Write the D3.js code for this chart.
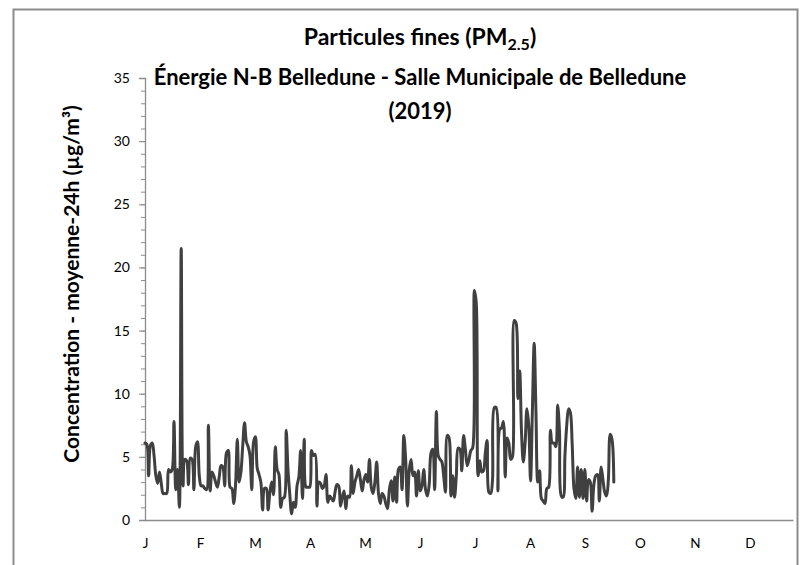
<!DOCTYPE html>
<html>
<head>
<meta charset="utf-8">
<script src="https://cdn.jsdelivr.net/npm/d3@7"></script>
<style>
  html, body { margin: 0; padding: 0; background: #fff; }
  svg { display: block; }
  text { font-family: Lato, "Open Sans", sans-serif; }
</style>
</head>
<body>
<svg id="chart" width="812" height="565"></svg>
<script>
// ---- data ----
const titleLine1 = "Particules fines (PM";
const titleSub = "2.5";
const titleLine2 = "Énergie N-B Belledune - Salle Municipale de Belledune";
const titleLine3 = "(2019)";
const yAxisTitle = "Concentration - moyenne-24h (µg/m³)";
const monthLabels = ["J","F","M","A","M","J","J","A","S","O","N","D"];
const yTickValues = [0, 5, 10, 15, 20, 25, 30, 35];
const startDate = "2019-01-01";
// daily 24h means, µg/m³, from 1 Jan 2019
const dailyValues = [
  6.1, 6.0, 3.5, 5.9, 6.1, 5.1, 3.5, 2.9, 3.8, 2.9,
  2.1, 2.1, 2.1, 4.0, 3.8, 4.0, 7.8, 2.4, 4.0, 1.0,
  21.5, 2.7, 4.8, 4.7, 2.8, 4.9, 4.8, 2.4, 5.8, 6.2,
  3.5, 2.7, 2.7, 2.5, 2.4, 7.5, 2.3, 3.8, 3.5, 3.0,
  2.6, 3.4, 4.3, 4.2, 2.7, 5.3, 5.5, 2.6, 2.5, 1.3,
  2.7, 6.4, 3.0, 3.8, 5.9, 7.7, 6.2, 5.8, 5.1, 2.4,
  6.2, 6.6, 4.1, 3.6, 3.0, 0.8, 2.5, 2.5, 0.8, 2.2,
  3.0, 2.0, 5.8, 4.0, 3.6, 1.0, 1.7, 1.8, 7.1, 4.0,
  2.0, 0.5, 1.4, 1.0, 2.7, 3.4, 5.5, 1.7, 6.4, 2.6,
  2.6, 2.6, 5.5, 5.1, 5.2, 1.1, 3.0, 2.9, 2.5, 2.7,
  3.6, 1.4, 1.9, 1.7, 1.5, 2.2, 2.8, 2.7, 1.1, 1.8,
  2.3, 0.9, 1.9, 1.8, 4.3, 2.1, 3.0, 3.5, 4.0, 3.2,
  2.3, 3.2, 3.6, 3.0, 4.8, 2.6, 2.1, 3.0, 4.6, 2.1,
  1.3, 2.1, 1.9, 1.3, 0.9, 2.4, 3.1, 1.5, 3.4, 1.4,
  4.0, 4.2, 2.4, 6.7, 4.8, 1.1, 4.0, 4.8, 3.5, 3.8,
  1.9, 3.9, 2.3, 2.7, 4.0, 2.4, 1.9, 2.8, 5.3, 5.6,
  2.4, 8.6, 5.1, 4.8, 4.6, 3.5, 2.2, 6.7, 6.5, 1.9,
  3.5, 1.8, 3.5, 5.7, 5.6, 3.9, 6.7, 5.6, 4.3, 4.8,
  5.5, 5.7, 18.2, 17.2, 3.5, 4.7, 3.8, 3.9, 5.3, 6.3,
  2.2, 2.1, 3.2, 8.9, 8.9, 2.3, 7.2, 7.3, 7.8, 3.4,
  6.5, 6.1, 4.8, 5.0, 15.8, 15.6, 9.6, 11.8, 7.0, 4.6,
  6.1, 8.8, 7.5, 3.1, 8.5, 14.0, 8.5, 3.0, 3.9, 1.7,
  1.5, 1.3, 2.5, 2.6, 7.1, 6.1, 6.1, 5.8, 9.1, 7.0,
  1.9, 1.8, 5.1, 7.5, 8.8, 8.5, 6.0, 2.5, 1.7, 4.2,
  1.8, 4.0, 1.7, 4.0, 1.5, 3.2, 3.0, 0.7, 2.8, 3.5,
  3.6, 1.5, 4.2, 3.2, 2.2, 1.9, 3.2, 6.8, 6.4, 3.0
];
const axisEndDays = 358;

// ---- build ----
const svg = d3.select("#chart");
const x0 = 145, x1 = 793, yTop = 78, yBottom = 520, xLastLabel = 750;

const parse = d3.timeParse("%Y-%m-%d");
const d0 = parse(startDate);
const series = dailyValues.map((v, i) => ({ date: d3.timeDay.offset(d0, i), value: v }));

const x = d3.scaleTime().domain([d0, d3.timeDay.offset(d0, axisEndDays)]).range([x0, x1]);
const y = d3.scaleLinear().domain([0, 35]).range([yBottom, yTop]);
const xMonth = d3.scalePoint().domain(d3.range(monthLabels.length)).range([x0, xLastLabel]);

// chart frame
svg.append("rect")
  .attr("x", 13.5).attr("y", 9.5).attr("width", 784).attr("height", 570)
  .attr("fill", "none").attr("stroke", "#8c8c8c").attr("stroke-width", 2);

// y axis minor ticks
const yMinor = d3.axisLeft(y).tickValues(d3.range(0, 36, 1)).tickSize(4).tickFormat("");
const gMinor = svg.append("g").attr("transform", `translate(${x0},0)`).call(yMinor);
gMinor.select(".domain").remove();
gMinor.selectAll("line").attr("stroke", "#8c8c8c");

// y axis major
const yAxis = d3.axisLeft(y).tickValues(yTickValues).tickSize(6).tickPadding(9).tickFormat(d3.format("d"));
const gy = svg.append("g").attr("transform", `translate(${x0},0)`).call(yAxis);
gy.select(".domain").attr("stroke", "#8c8c8c").attr("stroke-width", 1.3);
gy.selectAll("line").attr("stroke", "#8c8c8c");
gy.selectAll("text").attr("font-family", "Lato, sans-serif").attr("font-size", 14).attr("fill", "#000");

// x axis (line) + month labels
const gx = svg.append("g").attr("transform", `translate(0,${yBottom})`)
  .call(d3.axisBottom(x).tickValues([]).tickSizeOuter(0));
gx.select(".domain").attr("stroke", "#8c8c8c").attr("stroke-width", 1.3);
const gm = svg.append("g").attr("transform", `translate(0,${yBottom})`)
  .call(d3.axisBottom(xMonth).tickSize(0).tickPadding(18).tickFormat(i => monthLabels[i]));
gm.select(".domain").remove();
gm.selectAll("text").attr("font-family", "Lato, sans-serif").attr("font-size", 13.5).attr("fill", "#000");

// line (smoothed, like the original)
const line = d3.line().x(d => x(d.date)).y(d => y(d.value)).curve(d3.curveCatmullRom.alpha(0.5));
svg.append("path").datum(series)
  .attr("d", line)
  .attr("fill", "none")
  .attr("stroke", "#404040")
  .attr("stroke-width", 3)
  .attr("stroke-linejoin", "round")
  .attr("stroke-linecap", "round");

// titles
const tFont = 22;
const t1 = svg.append("text").attr("x", 420).attr("y", 45)
  .attr("text-anchor", "middle").attr("font-weight", "bold").attr("font-size", 23).attr("fill", "#000");
t1.append("tspan").text(titleLine1);
t1.append("tspan").attr("dy", 5).attr("font-size", 16).text(titleSub);
t1.append("tspan").attr("dy", -5).text(")");

svg.append("text").attr("x", 420).attr("y", 85)
  .attr("text-anchor", "middle").attr("font-weight", "bold").attr("font-size", tFont).attr("fill", "#000")
  .text(titleLine2);
svg.append("text").attr("x", 420).attr("y", 119)
  .attr("text-anchor", "middle").attr("font-weight", "bold").attr("font-size", tFont).attr("fill", "#000")
  .text(titleLine3);

// y axis title
svg.append("text")
  .attr("transform", `translate(72,284) rotate(-90)`)
  .attr("text-anchor", "middle").attr("dy", "0.35em").attr("font-weight", "bold").attr("font-size", 21).attr("fill", "#000")
  .text(yAxisTitle);
</script>
</body>
</html>
